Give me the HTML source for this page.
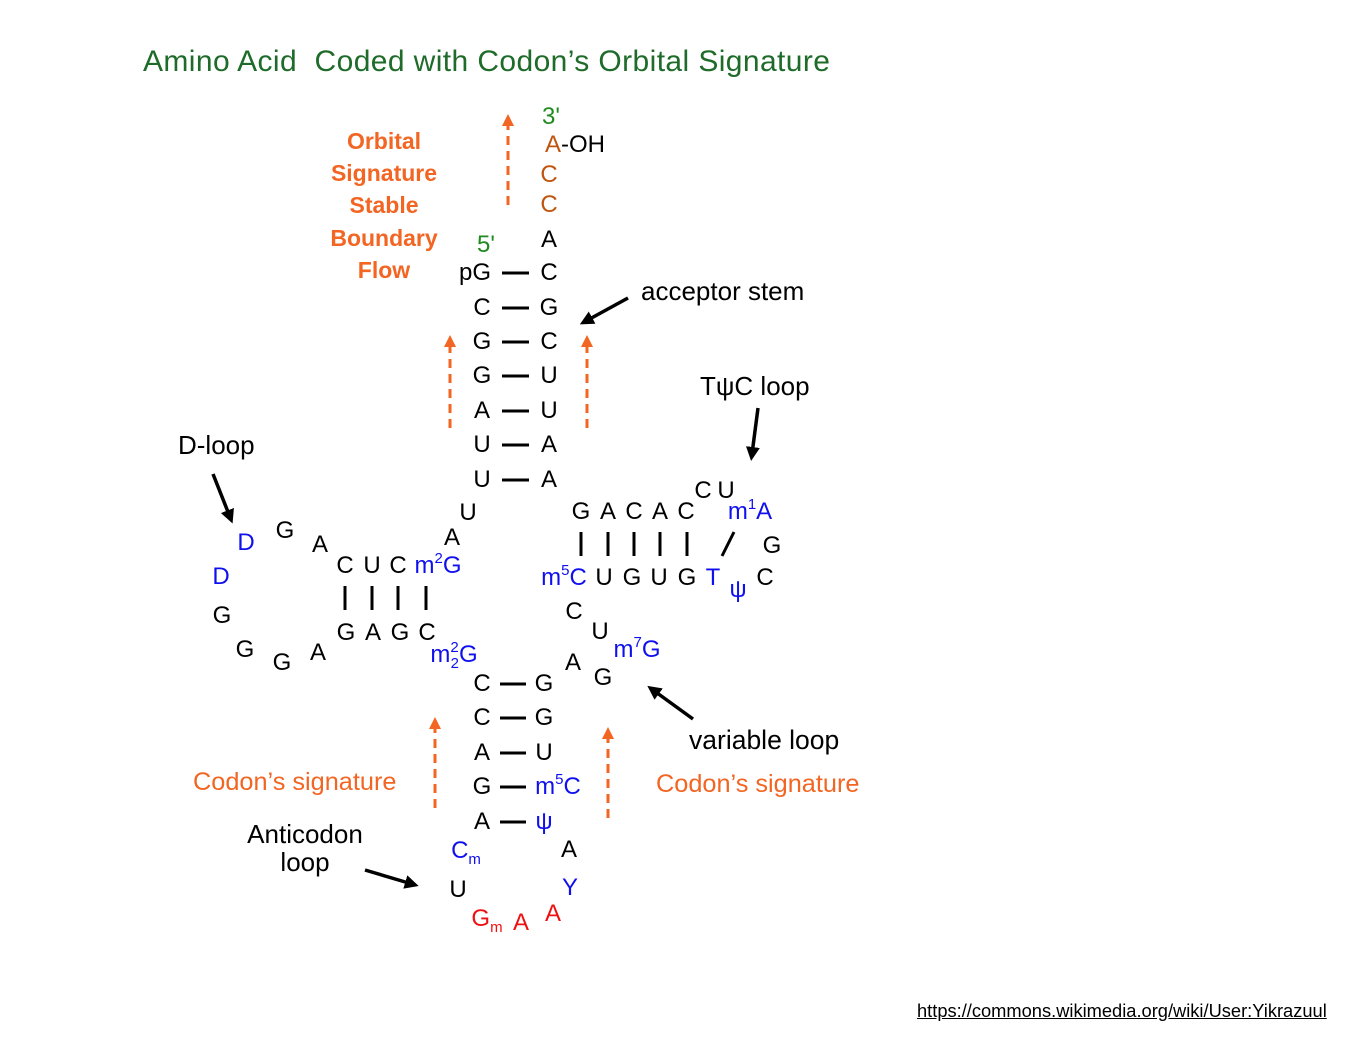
<!DOCTYPE html>
<html><head><meta charset="utf-8"><style>
body{margin:0;width:1364px;height:1043px;background:#fff;position:relative;overflow:hidden;font-family:"Liberation Sans",sans-serif}
.c{position:absolute;transform:translate(-50%,-50%);font-size:24px;line-height:28px;white-space:nowrap;color:#000}
.b{color:#1010ee}.r{color:#ee1111}.o{color:#f26522}.br{color:#c0550f}.g{color:#1f8a1f}
.l{position:absolute;white-space:nowrap}
sup{font-size:15px;vertical-align:10px;line-height:0}
sub{font-size:15px;vertical-align:-6px;line-height:0}
svg{position:absolute;left:0;top:0}
</style></head><body>
<div class="l" style="left:143px;top:45px;font-size:30px;letter-spacing:0.4px;color:#1e6b2a">Amino Acid&nbsp; Coded with Codon’s Orbital Signature</div>
<div class="l o" style="left:300px;top:125px;width:168px;text-align:center;font-size:23px;font-weight:bold;line-height:32.2px">Orbital<br>Signature<br>Stable<br>Boundary<br>Flow</div>
<svg width="1364" height="1043">
<defs><marker id="ao" markerWidth="4" markerHeight="4" refX="2" refY="2" orient="auto"><path d="M0,0L4,2L0,4z" fill="#f26522"/></marker>
<marker id="ab" markerWidth="4" markerHeight="4" refX="2" refY="2" orient="auto"><path d="M0,0L4,2L0,4z" fill="#000"/></marker></defs>
<g stroke="#f26522" stroke-width="3" stroke-dasharray="9,6" fill="none">
<line x1="508" y1="205" x2="508" y2="120" marker-end="url(#ao)"/>
<line x1="450" y1="428" x2="450" y2="341" marker-end="url(#ao)"/>
<line x1="587" y1="428" x2="587" y2="341" marker-end="url(#ao)"/>
<line x1="435" y1="808" x2="435" y2="723" marker-end="url(#ao)"/>
<line x1="608" y1="818" x2="608" y2="733" marker-end="url(#ao)"/>
</g>
<g stroke="#000" stroke-width="3.5" fill="none">
<line x1="628" y1="298" x2="586" y2="321" marker-end="url(#ab)"/>
<line x1="758" y1="408" x2="752" y2="454" marker-end="url(#ab)"/>
<line x1="213" y1="474" x2="230" y2="517" marker-end="url(#ab)"/>
<line x1="365" y1="870" x2="412" y2="884" marker-end="url(#ab)"/>
<line x1="693" y1="719" x2="653" y2="690" marker-end="url(#ab)"/>
</g>
<g stroke="#000" stroke-width="3">
<line x1="502" y1="273" x2="529" y2="273"/><line x1="502" y1="308" x2="529" y2="308"/>
<line x1="502" y1="342" x2="529" y2="342"/><line x1="502" y1="376" x2="529" y2="376"/>
<line x1="502" y1="411" x2="529" y2="411"/><line x1="502" y1="445" x2="529" y2="445"/>
<line x1="502" y1="480" x2="529" y2="480"/>
<line x1="500" y1="684" x2="526" y2="684"/><line x1="500" y1="718" x2="526" y2="718"/>
<line x1="500" y1="753" x2="526" y2="753"/><line x1="500" y1="787" x2="526" y2="787"/>
<line x1="500" y1="822" x2="526" y2="822"/>
<line x1="345" y1="586" x2="345" y2="610"/><line x1="372" y1="586" x2="372" y2="610"/>
<line x1="398" y1="586" x2="398" y2="610"/><line x1="426" y1="586" x2="426" y2="610"/>
<line x1="581" y1="532" x2="581" y2="556"/><line x1="608" y1="532" x2="608" y2="556"/>
<line x1="634" y1="532" x2="634" y2="556"/><line x1="660" y1="532" x2="660" y2="556"/>
<line x1="687" y1="532" x2="687" y2="556"/><line x1="734" y1="532" x2="722" y2="556"/>
</g>
</svg>
<div class="c g" style="left:551px;top:117px">3'</div>
<div class="c" style="left:575px;top:145px"><span class="br">A</span>-OH</div>
<div class="c br" style="left:549px;top:175px">C</div>
<div class="c br" style="left:549px;top:205px">C</div>
<div class="c" style="left:549px;top:240px">A</div>
<div class="c g" style="left:486px;top:245px">5'</div>
<div class="c" style="left:475px;top:273px">pG</div><div class="c" style="left:549px;top:273px">C</div>
<div class="c" style="left:482px;top:308px">C</div><div class="c" style="left:549px;top:308px">G</div>
<div class="c" style="left:482px;top:342px">G</div><div class="c" style="left:549px;top:342px">C</div>
<div class="c" style="left:482px;top:376px">G</div><div class="c" style="left:549px;top:376px">U</div>
<div class="c" style="left:482px;top:411px">A</div><div class="c" style="left:549px;top:411px">U</div>
<div class="c" style="left:482px;top:445px">U</div><div class="c" style="left:549px;top:445px">A</div>
<div class="c" style="left:482px;top:480px">U</div><div class="c" style="left:549px;top:480px">A</div>
<div class="l" style="left:641px;top:276px;font-size:26px">acceptor stem</div>
<div class="l" style="left:700px;top:371px;font-size:26px">TψC loop</div>
<div class="l" style="left:178px;top:430px;font-size:26px">D-loop</div>
<div class="c b" style="left:246px;top:543px">D</div><div class="c" style="left:285px;top:531px">G</div>
<div class="c" style="left:320px;top:545px">A</div><div class="c" style="left:345px;top:566px">C</div>
<div class="c" style="left:372px;top:566px">U</div><div class="c" style="left:398px;top:566px">C</div>
<div class="c b" style="left:438px;top:566px">m<sup>2</sup>G</div>
<div class="c" style="left:452px;top:538px">A</div><div class="c" style="left:468px;top:513px">U</div>
<div class="c b" style="left:221px;top:577px">D</div><div class="c" style="left:222px;top:616px">G</div>
<div class="c" style="left:245px;top:650px">G</div><div class="c" style="left:282px;top:663px">G</div>
<div class="c" style="left:318px;top:653px">A</div>
<div class="c" style="left:346px;top:633px">G</div><div class="c" style="left:373px;top:633px">A</div>
<div class="c" style="left:400px;top:633px">G</div><div class="c" style="left:427px;top:633px">C</div>
<div class="c b" style="left:454px;top:655px">m<sup style="margin-right:-8px">2</sup><sub>2</sub>G</div>
<div class="c" style="left:482px;top:684px">C</div><div class="c" style="left:544px;top:684px">G</div>
<div class="c" style="left:482px;top:718px">C</div><div class="c" style="left:544px;top:718px">G</div>
<div class="c" style="left:482px;top:753px">A</div><div class="c" style="left:544px;top:753px">U</div>
<div class="c" style="left:482px;top:787px">G</div><div class="c b" style="left:558px;top:787px">m<sup>5</sup>C</div>
<div class="c" style="left:482px;top:822px">A</div><div class="c b" style="left:544px;top:822px">ψ</div>
<div class="c b" style="left:466px;top:851px">C<sub>m</sub></div><div class="c" style="left:569px;top:850px">A</div>
<div class="c" style="left:458px;top:890px">U</div><div class="c b" style="left:570px;top:888px">Y</div>
<div class="c r" style="left:487px;top:919px">G<sub>m</sub></div><div class="c r" style="left:521px;top:923px">A</div>
<div class="c r" style="left:553px;top:914px">A</div>
<div class="l" style="left:235px;top:820px;width:140px;text-align:center;font-size:26px;line-height:28px">Anticodon<br>loop</div>
<div class="l o" style="left:193px;top:768px;font-size:25.3px">Codon’s signature</div>
<div class="l o" style="left:656px;top:770px;font-size:25.3px">Codon’s signature</div>
<div class="l" style="left:689px;top:725px;font-size:26.5px">variable loop</div>
<div class="c" style="left:581px;top:512px">G</div><div class="c" style="left:608px;top:512px">A</div>
<div class="c" style="left:634px;top:512px">C</div><div class="c" style="left:660px;top:512px">A</div>
<div class="c" style="left:686px;top:512px">C</div><div class="c" style="left:703px;top:491px">C</div>
<div class="c" style="left:726px;top:491px">U</div><div class="c b" style="left:750px;top:512px">m<sup>1</sup>A</div>
<div class="c" style="left:772px;top:546px">G</div>
<div class="c b" style="left:564px;top:578px">m<sup>5</sup>C</div><div class="c" style="left:604px;top:578px">U</div>
<div class="c" style="left:632px;top:578px">G</div><div class="c" style="left:659px;top:578px">U</div>
<div class="c" style="left:687px;top:578px">G</div><div class="c b" style="left:713px;top:578px">T</div>
<div class="c b" style="left:738px;top:590px">ψ</div><div class="c" style="left:765px;top:578px">C</div>
<div class="c" style="left:574px;top:612px">C</div><div class="c" style="left:600px;top:632px">U</div>
<div class="c b" style="left:637px;top:650px">m<sup>7</sup>G</div>
<div class="c" style="left:573px;top:663px">A</div><div class="c" style="left:603px;top:678px">G</div>
<div class="l" style="left:917px;top:1000px;font-size:18.3px;text-decoration:underline">https://commons.wikimedia.org/wiki/User:Yikrazuul</div>
</body></html>
